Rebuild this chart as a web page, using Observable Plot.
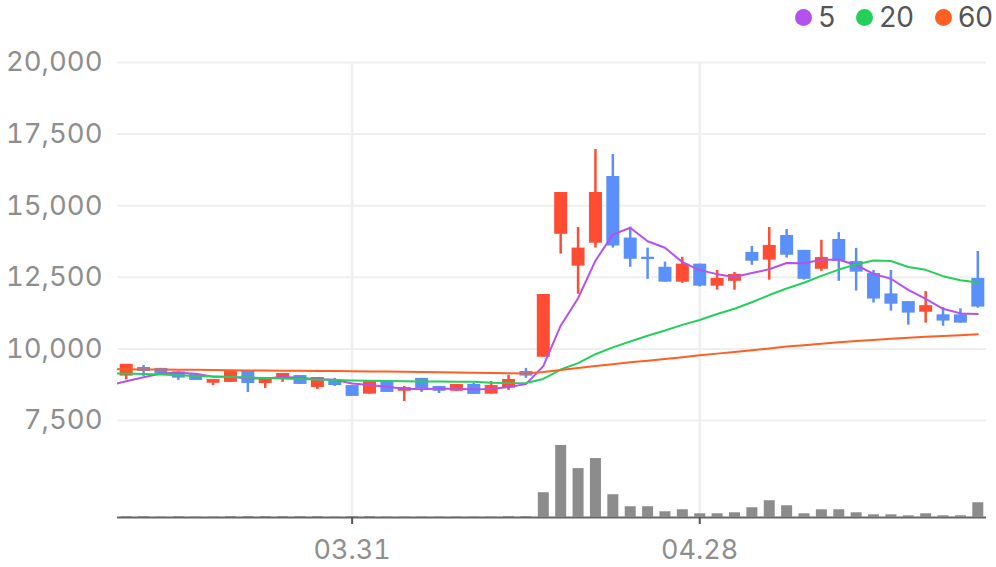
<!DOCTYPE html>
<html>
<head>
<meta charset="utf-8">
<script src="https://cdn.jsdelivr.net/npm/d3@7"></script>
<script src="https://cdn.jsdelivr.net/npm/@observablehq/plot@0.6"></script>
<style>
  html, body { margin: 0; padding: 0; background: #fff; }
  #wrap { position: relative; width: 996px; height: 567px; font-family: Inter, "Noto Sans", sans-serif; }
  #legend { position: absolute; top: 0; right: 3px; height: 34px; display: flex; align-items: center; font-size: 28px; color: #555; }
  #legend .item { display: flex; align-items: center; margin-left: 21px; }
  #legend .dot { width: 17px; height: 17px; border-radius: 50%; margin-right: 6px; }
  #charts svg { display: block; }
</style>
</head>
<body>
<div id="wrap">
  <div id="legend"></div>
  <div id="charts"></div>
</div>
<script>
const dates = ["03.12","03.13","03.14","03.17","03.18","03.19","03.20","03.21","03.24","03.25","03.26","03.27","03.28","03.31",
  "04.01","04.02","04.03","04.04","04.07","04.08","04.09","04.10","04.11","04.14","04.15","04.16","04.17","04.18","04.21","04.22","04.23","04.24","04.25","04.28",
  "04.29","04.30","05.01","05.02","05.06","05.07","05.08","05.09","05.12","05.13","05.14","05.15","05.16","05.19","05.20","05.21"];
const open  = [9050, 9350, 9320, 9200, 9100, 8800, 8830, 9210, 8790, 8970, 9070, 8650, 8930, 8720, 8420, 8860, 8520, 8970, 8690, 8520, 8760, 8420, 8630, 9210, 9710, 14000, 12890, 13690, 16020, 13870, 13200, 12850, 12330, 12960, 12190, 12360, 13370, 13100, 13960, 13440, 12780, 13820, 13050, 12630, 11920, 11650, 11280, 11190, 11190, 12460];
const high  = [9460, 9420, 9320, 9200, 9100, 8930, 9240, 9210, 9000, 9140, 9070, 9000, 8970, 8720, 8860, 8860, 8690, 8970, 8690, 8760, 8800, 8860, 9080, 9320, 11900, 15460, 14240, 16960, 16790, 14250, 13520, 13030, 13200, 12960, 12740, 12670, 13580, 14240, 14170, 13440, 13790, 14060, 13510, 12740, 12740, 11650, 12000, 11440, 11400, 13400];
const low   = [8920, 9040, 9120, 8900, 8900, 8720, 8830, 8480, 8620, 8830, 8760, 8580, 8690, 8340, 8420, 8480, 8160, 8480, 8440, 8520, 8410, 8420, 8550, 8970, 9710, 13310, 11910, 13520, 13520, 12850, 12430, 12330, 12290, 12160, 12050, 12050, 12920, 12400, 13170, 12400, 12710, 12360, 12020, 11600, 11320, 10830, 10900, 10790, 10900, 11420];
const close = [9460, 9210, 9120, 8980, 8900, 8930, 9240, 8790, 9000, 9140, 8760, 9000, 8720, 8340, 8860, 8480, 8650, 8610, 8520, 8760, 8410, 8720, 8930, 9050, 11900, 15460, 13520, 15460, 13590, 13130, 13120, 12330, 12960, 12190, 12460, 12600, 13060, 13610, 13270, 12430, 13190, 13060, 12680, 11740, 11560, 11250, 11510, 10970, 10900, 11460];
const volume = [100, 100, 50, 100, 50, 50, 100, 100, 100, 100, 100, 100, 50, 100, 100, 50, 50, 50, 50, 50, 50, 50, 100, 100,
  2470, 7170, 4870, 5870, 2270, 1070, 1070, 570, 770, 370, 370, 470, 970, 1670, 1170, 370, 770, 770, 470, 270, 270, 170, 370, 170, 170, 1470];
const ma5  = [8870, 9010, 9140, 9170, 9130, 9030, 9030, 8970, 8970, 9020, 8990, 8940, 8920, 8790, 8740, 8680, 8610, 8590, 8620, 8600, 8590, 8600, 8670, 8770, 9400, 10810, 11770, 13080, 13990, 14230, 13760, 13530, 13030, 12750, 12610, 12510, 12650, 12780, 13000, 12990, 13110, 13110, 12930, 12620, 12450, 12060, 11750, 11400, 11240, 11220];
const ma20 = [9140, 9125, 9105, 9080, 9055, 9035, 9015, 9000, 8985, 8970, 8950, 8935, 8915, 8900, 8890, 8880, 8870, 8865, 8860, 8855, 8855, 8820, 8805, 8810, 8950, 9280, 9505, 9815, 10055, 10260, 10460, 10640, 10840, 11010, 11220, 11400, 11630, 11880, 12110, 12310, 12550, 12770, 12950, 13090, 13070, 12860, 12760, 12540, 12400, 12320];
const ma60 = [9290, 9285, 9280, 9275, 9270, 9262, 9256, 9250, 9245, 9240, 9236, 9232, 9226, 9220, 9214, 9208, 9200, 9192, 9185, 9178, 9170, 9160, 9150, 9140, 9190, 9260, 9330, 9400, 9465, 9530, 9590, 9650, 9710, 9775, 9835, 9895, 9955, 10015, 10080, 10130, 10180, 10230, 10275, 10315, 10355, 10390, 10420, 10450, 10480, 10510];
// moving-average values on the trading day before the first visible candle (03.11)
const maPrev = [8720, 9150, 9295];
const maNames = ["5", "20", "60"];
const maColors = ["#b452ef", "#25d05a", "#ff5f22"];
const yTicks = [7500, 10000, 12500, 15000, 17500, 20000];
const xTickLabels = ["03.31", "04.28"];

const UP = "#ff4c33", DOWN = "#5b8ff9", GRID = "#efefef", TXT = "#8e8e8e";

const candles = dates.map((d, i) => ({i, d, o: open[i], h: high[i], l: low[i], c: close[i], v: volume[i], up: close[i] >= open[i]}));
const maSeries = [ma5, ma20, ma60].map((arr, k) => [{i: -1, v: maPrev[k]}, ...arr.map((v, i) => ({i, v}))]);
const tickIdx = xTickLabels.map(t => dates.indexOf(t));
const xScale = {type: "linear", domain: [-0.5, dates.length - 0.5]};
const W = 996, ML = 117, MR = 10;
const fmt = d3.format(",");
const fontStyle = {fontFamily: "Inter, 'Noto Sans', sans-serif", fontSize: "27px", background: "transparent", overflow: "visible"};

const price = Plot.plot({
  width: W, height: 420, marginLeft: ML, marginRight: MR, marginTop: 62, marginBottom: 0,
  style: fontStyle,
  x: {...xScale, axis: null},
  y: {domain: [7500, 20000], axis: null},
  marks: [
    Plot.ruleY(yTicks, {stroke: GRID, strokeWidth: 2}),
    Plot.ruleX(tickIdx, {stroke: GRID, strokeWidth: 2.5}),
    Plot.axisY({ticks: yTicks, tickFormat: fmt, tickSize: 0, tickPadding: 15, fill: TXT, fontSize: 27.5, label: null}),
    Plot.ruleX(candles, {x: "i", y1: "l", y2: "h", stroke: d => d.up ? UP : DOWN, strokeWidth: 2.5}),
    Plot.ruleX(candles, {x: "i", y1: "o", y2: "c", stroke: d => d.up ? UP : DOWN, strokeWidth: 13}),
    ...maSeries.map((s, k) => Plot.line(s, {x: "i", y: "v", stroke: maColors[k], strokeWidth: 2, clip: true}))
  ]
});

const vol = Plot.plot({
  width: W, height: 147, marginLeft: ML, marginRight: MR, marginTop: 25, marginBottom: 50,
  style: fontStyle,
  x: {...xScale, axis: null},
  y: {domain: [0, d3.max(volume)], axis: null},
  marks: [
    Plot.ruleX(tickIdx, {stroke: GRID, strokeWidth: 2.5, insetTop: -25}),
    Plot.ruleY([0], {stroke: "#666", strokeWidth: 2}),
    Plot.ruleX(candles, {x: "i", y1: 0, y2: "v", stroke: "#8c8c8c", strokeWidth: 11}),
    Plot.axisX({ticks: tickIdx, tickFormat: i => dates[i], tickSize: 7, tickPadding: 15, stroke: "#555", strokeWidth: 2, fill: TXT, fontSize: 27, label: null})
  ]
});

const charts = document.getElementById("charts");
charts.appendChild(price);
charts.appendChild(vol);

const legend = document.getElementById("legend");
maNames.forEach((n, k) => {
  const it = document.createElement("div");
  it.className = "item";
  const dot = document.createElement("span");
  dot.className = "dot";
  dot.style.background = maColors[k];
  const t = document.createElement("span");
  t.textContent = n;
  it.appendChild(dot); it.appendChild(t);
  legend.appendChild(it);
});
</script>
</body>
</html>
